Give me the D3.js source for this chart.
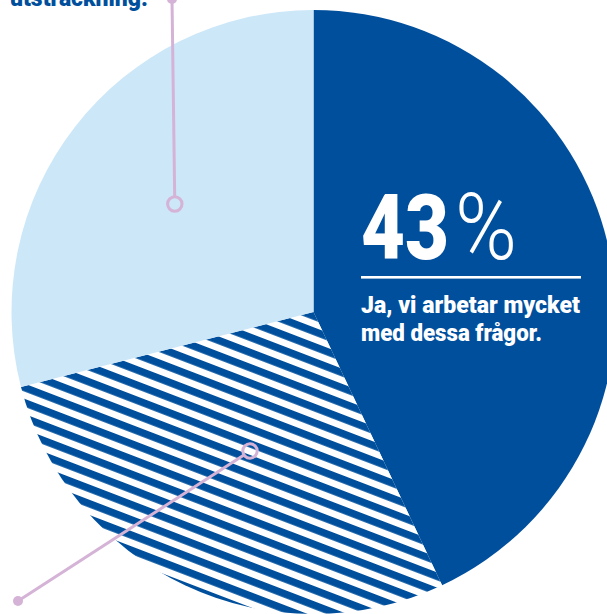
<!DOCTYPE html>
<html>
<head>
<meta charset="utf-8">
<script src="https://cdn.jsdelivr.net/npm/d3@7"></script>
<style>
html,body{margin:0;padding:0;background:#fff;}
svg{display:block;}
</style>
</head>
<body>
<svg id="chart" width="607" height="614"></svg>
<script>
// ---- data ----
const categories = ["Ja, vi arbetar mycket med dessa frågor.", "Delvis", "I viss utsträckning."];
const values = [43, 28, 29];
const valueLabels = ["43%"];
const mainLabelLines = ["Ja, vi arbetar mycket", "med dessa frågor."];
const topLabelLines = ["utsträckning."];

// ---- style ----
const darkBlue = "#004f9d";
const lightBlue = "#cce7f8";
const pink = "#d5b3d7";

const svg = d3.select("#chart");
const cx = 313.5, cy = 312, R = 302;

const defs = svg.append("defs");
const pat = defs.append("pattern")
  .attr("id", "stripes")
  .attr("patternUnits", "userSpaceOnUse")
  .attr("width", 40).attr("height", 14.2)
  .attr("patternTransform", "rotate(21)");
pat.append("rect").attr("width", 40).attr("height", 14.2).attr("fill", "#fff");
pat.append("rect").attr("y", 0).attr("width", 40).attr("height", 7.4).attr("fill", darkBlue);

const fills = [darkBlue, "url(#stripes)", lightBlue];

const pie = d3.pie().sort(null).value(d => d).startAngle(0).endAngle(2 * Math.PI);
const arc = d3.arc().innerRadius(0).outerRadius(R);

const g = svg.append("g").attr("transform", `translate(${cx},${cy})`);
g.selectAll("path.slice")
  .data(pie(values))
  .join("path")
  .attr("class", "slice")
  .attr("d", arc)
  .attr("fill", (d, i) => fills[i]);

// ---- big value label ----
const font = "Roboto, 'Noto Sans', sans-serif";
const num = valueLabels[0].replace("%", "");
svg.append("text")
  .attr("x", 361).attr("y", 259)
  .attr("fill", "#fff")
  .attr("font-family", font)
  .attr("font-weight", 900)
  .attr("font-size", 90)
  .attr("textLength", 88)
  .attr("lengthAdjust", "spacingAndGlyphs")
  .text(num);
svg.append("text")
  .attr("x", 455).attr("y", 259)
  .attr("fill", "#fff")
  .attr("font-family", font)
  .attr("font-weight", 300)
  .attr("font-size", 92)
  .attr("textLength", 62)
  .attr("lengthAdjust", "spacingAndGlyphs")
  .text("%");

svg.append("rect")
  .attr("x", 361).attr("y", 276).attr("width", 220).attr("height", 2.6)
  .attr("fill", "#fff");

const lineWidths = [219, 181];
mainLabelLines.forEach((t, i) => {
  svg.append("text")
    .attr("x", 361).attr("y", 313 + i * 28)
    .attr("fill", "#fff")
    .attr("font-family", font)
    .attr("font-weight", 900)
    .attr("font-size", 23)
    .attr("textLength", lineWidths[i])
    .attr("lengthAdjust", "spacingAndGlyphs")
    .text(t);
});

// ---- top (cut off) label ----
svg.append("text")
  .attr("x", 10).attr("y", 6)
  .attr("fill", darkBlue)
  .attr("font-family", font)
  .attr("font-weight", 900)
  .attr("font-size", 23)
  .attr("textLength", 138)
  .attr("lengthAdjust", "spacingAndGlyphs")
  .text(topLabelLines[0]);

// ---- leader lines ----
function leader(x1, y1, x2, y2) {
  const cr = 7.2;
  const dx = x1 - x2, dy = y1 - y2, L = Math.hypot(dx, dy);
  svg.append("line")
    .attr("x1", x1).attr("y1", y1)
    .attr("x2", x2 + dx / L * cr).attr("y2", y2 + dy / L * cr)
    .attr("stroke", pink).attr("stroke-width", 3);
  svg.append("circle").attr("cx", x1).attr("cy", y1).attr("r", 5).attr("fill", pink);
  svg.append("circle").attr("cx", x2).attr("cy", y2).attr("r", cr)
    .attr("fill", "none").attr("stroke", pink).attr("stroke-width", 3);
}
leader(172, -1, 174.8, 204);
leader(18, 601, 250, 451);
</script>
</body>
</html>
